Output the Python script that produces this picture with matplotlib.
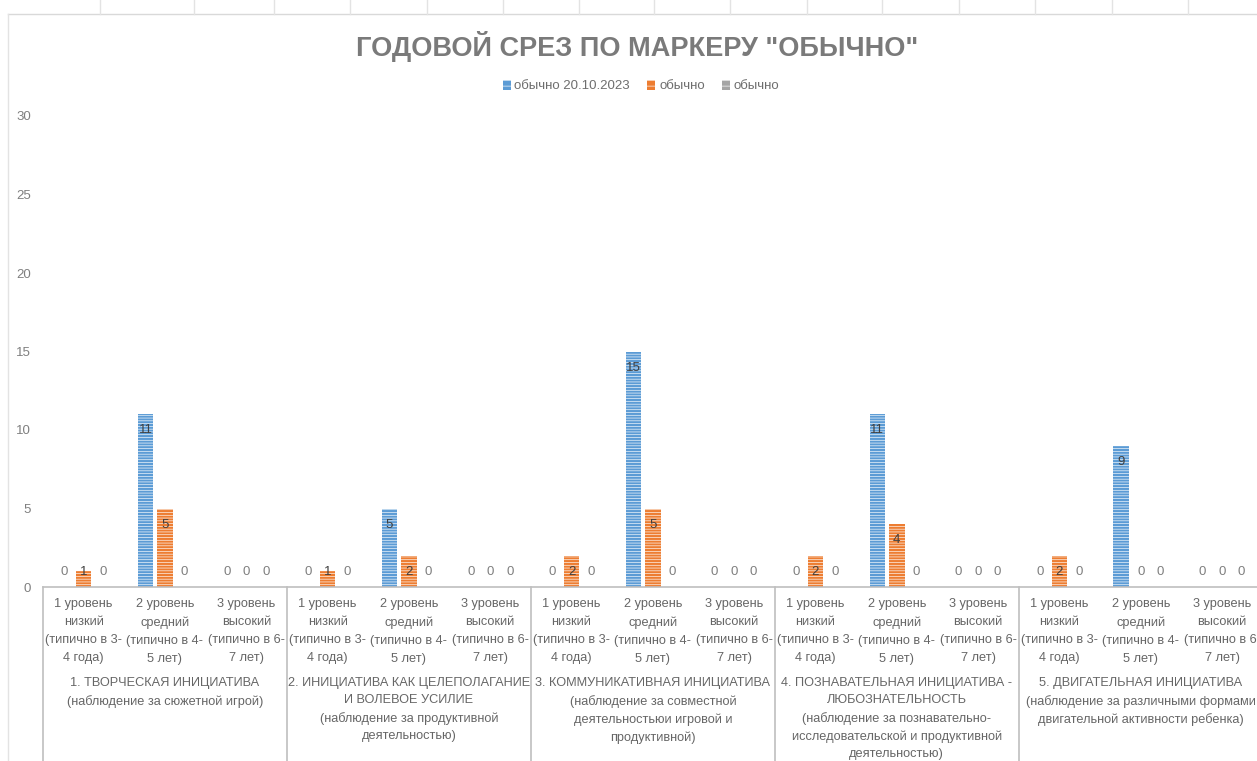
"""
Годовой срез по маркеру "обычно": сгруппированная гистограмма по пяти видам инициативы
"""
import matplotlib.pyplot as plt     #import Matplotlib for plotting
from matplotlib.patches import Patch
from matplotlib.lines import Line2D

plt.rcParams['font.family'] = ['Liberation Sans', 'DejaVu Sans']
plt.rcParams['hatch.linewidth'] = 0.45

#category labels: three levels repeated inside each of five groups
levels = ["1 уровень\nнизкий\n(типично в 3-\n4 года)",
          "2 уровень\nсредний\n(типично в 4-\n5 лет)",
          "3 уровень\nвысокий\n(типично в 6-\n7 лет)"]
groups = ["1. ТВОРЧЕСКАЯ ИНИЦИАТИВА\n(наблюдение за сюжетной игрой)",
          "2. ИНИЦИАТИВА КАК ЦЕЛЕПОЛАГАНИЕ\nИ ВОЛЕВОЕ УСИЛИЕ\n(наблюдение за продуктивной\nдеятельностью)",
          "3. КОММУНИКАТИВНАЯ ИНИЦИАТИВА\n(наблюдение за совместной\nдеятельностьюи игровой и\nпродуктивной)",
          "4. ПОЗНАВАТЕЛЬНАЯ ИНИЦИАТИВА -\nЛЮБОЗНАТЕЛЬНОСТЬ\n(наблюдение за познавательно-\nисследовательской и продуктивной\nдеятельностью)",
          "5. ДВИГАТЕЛЬНАЯ ИНИЦИАТИВА\n(наблюдение за различными формами\nдвигательной активности ребенка)"]

#series values, 15 categories each
series_names = ["обычно 20.10.2023", "обычно", "обычно"]
blue_vals = [0, 11, 0, 0, 5, 0, 0, 15, 0, 0, 11, 0, 0, 9, 0]
orange_vals = [1, 5, 0, 1, 2, 0, 2, 5, 0, 2, 4, 0, 2, 0, 0]
gray_vals = [0, 0, 0, 0, 0, 0, 0, 0, 0, 0, 0, 0, 0, 0, 0]
series = [blue_vals, orange_vals, gray_vals]
colors = ["#5B9BD5", "#ED7D31", "#A5A5A5"]

W, H = 1257, 761
fig = plt.figure(figsize=(W / 100, H / 100), dpi=100)
ax = fig.add_axes([43 / W, 174 / H, (W - 43) / W, 471 / H])

n = len(blue_vals)
x = list(range(n))
bar_w = 0.19
step = 0.24
hatch = '------'

#bars with white horizontal stripes and value labels
for s, (vals, col) in enumerate(zip(series, colors)):
    off = (s - 1) * step
    ax.bar([i + off for i in x], vals, width=bar_w, color=col,
           edgecolor='white', linewidth=0, hatch=hatch)
    for i, v in enumerate(vals):
        y = max(v - 1.02, 0.95)
        ax.text(i + off, y, str(v), ha='center', va='center', fontsize=9.5,
                color='#404040' if v > 0 else '#7F7F7F')

ax.set_xlim(-0.5, 14.43)
ax.set_ylim(0, 30)
ax.set_yticks(range(0, 31, 5))
ax.set_xticks([])
ax.tick_params(axis='y', length=0, pad=8.6, labelsize=9.5, labelcolor='#7F7F7F')
for side in ['top', 'right', 'left']:
    ax.spines[side].set_visible(False)
ax.spines['bottom'].set_color('#BFBFBF')
ax.spines['bottom'].set_linewidth(1.2)

#multi-level category axis
trans = ax.get_xaxis_transform()
for i in x:
    ax.text(i, -11 / 471, levels[i % 3], transform=trans, ha='center', va='top',
            fontsize=9.2, color='#666666', linespacing=1.68, clip_on=False)
for g, lab in enumerate(groups):
    ax.text(3 * g + 1, -90 / 471, lab, transform=trans, ha='center', va='top',
            fontsize=9.2, color='#666666', linespacing=1.58, clip_on=False)
for k in range(6):
    ax.plot([-0.5 + 3 * k] * 2, [0, -174 / 471], transform=trans,
            color='#BFBFBF', lw=1.2, clip_on=False)

#title and legend
fig.text(637 / W, 1 - 47 / H, 'ГОДОВОЙ СРЕЗ ПО МАРКЕРУ "ОБЫЧНО"', ha='center', va='center',
         fontsize=19.5, fontweight='bold', color='#7A7A7A')
handles = [Patch(facecolor=c, edgecolor='white', linewidth=0, hatch='---') for c in colors]
fig.legend(handles, series_names, loc='center', bbox_to_anchor=(641 / W, 1 - 86 / H),
           ncol=3, frameon=False, fontsize=9.5, handlelength=0.6, handleheight=0.8,
           handletextpad=0.3, columnspacing=1.3, labelcolor='#6E6E6E')

#spreadsheet frame around the chart
fig.add_artist(Line2D([8 / W, 1], [1 - 14 / H] * 2, transform=fig.transFigure,
                      color='#D9D9D9', lw=1))
fig.add_artist(Line2D([8 / W, 8 / W], [0, 1 - 14 / H], transform=fig.transFigure,
                      color='#E3E3E3', lw=1))
for tx in [100, 194, 274, 350, 427, 503, 579, 654, 730, 807, 882, 959, 1035, 1112, 1188]:
    fig.add_artist(Line2D([tx / W] * 2, [1 - 14 / H, 1], transform=fig.transFigure,
                          color='#E3E3E3', lw=1))

fig.savefig('out.png', dpi=100)
